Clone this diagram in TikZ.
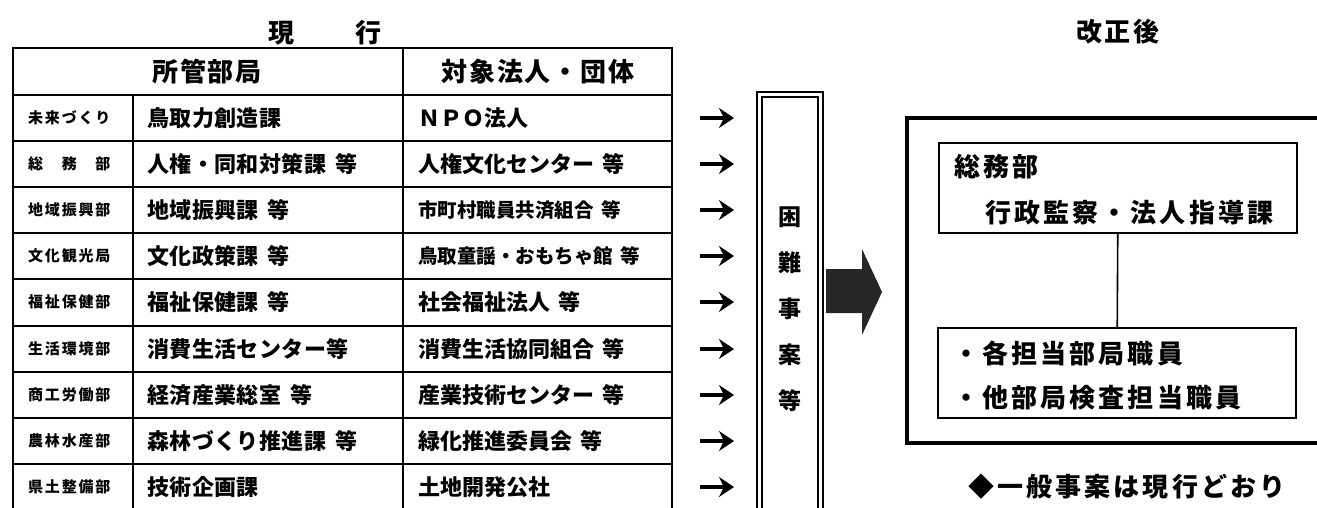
\documentclass[tikz,border=0pt]{standalone}
\usepackage{fontspec}
\setmainfont{Noto Sans CJK JP}
\usetikzlibrary{arrows.meta}
\newcommand{\gp}{\hspace{0.4em}}
\tikzset{
  tline/.style={line width=1.8pt},
  sname/.style={anchor=west, inner sep=0pt, font=\bfseries\fontsize{15}{15}\selectfont\addfontfeatures{LetterSpace=12}},
  mid/.style={anchor=west, inner sep=0pt, font=\bfseries\fontsize{22}{22}\selectfont\addfontfeatures{LetterSpace=2}},
  obj/.style={anchor=west, inner sep=0pt, font=\bfseries\fontsize{22}{22}\selectfont},
  objs/.style={anchor=west, inner sep=0pt, font=\bfseries\fontsize{19.5}{20}\selectfont},
  head/.style={inner sep=0pt, font=\bfseries\fontsize{26}{26}\selectfont\addfontfeatures{LetterSpace=7}},
  title/.style={inner sep=0pt, font=\bfseries\fontsize{26}{26}\selectfont\addfontfeatures{LetterSpace=8}},
  rt/.style={anchor=west, inner sep=0pt, font=\bfseries\fontsize{26}{26}\selectfont\addfontfeatures{LetterSpace=12}},
  box/.style={draw, line width=1.6pt, inner sep=0pt},
  rowarrow/.style={draw, line width=4.5pt, -{Stealth[length=15pt,width=20pt,inset=5pt]}},
}
\begin{document}
\begin{tikzpicture}[x=1pt,y=-1pt]
\useasboundingbox (0,0) rectangle (1317,507);
\clip (0,0) rectangle (1317,507);
% titles
\node[title] (gen1) at (281,33) {現};
\node[title] (gen2) at (368,33) {行};
\node[title] (kaisei) at (1118,32) {改正後};
% table lines
\draw[tline] (13,48) rectangle (672,530);
\draw[tline] (13,95) -- (672,95);
\draw[tline] (403,48) -- (403,530);
\draw[tline] (133,95) -- (133,530);
\foreach \y in {141,187,233,279,326,372,418,464} \draw[tline] (13,\y) -- (672,\y);
% headers
\node[head] (h1) at (207,72) {所管部局};
\node[head] (h2) at (538,72) {対象法人・団体};
% rows
\node[sname] (s1) at (28,118) {未来づくり};
\node[sname] (s2) at (28,164) {総　務　部};
\node[sname] (s3) at (28,210) {地域振興部};
\node[sname] (s4) at (28,256) {文化観光局};
\node[sname] (s5) at (28,302) {福祉保健部};
\node[sname] (s6) at (28,349) {生活環境部};
\node[sname] (s7) at (28,395) {商工労働部};
\node[sname] (s8) at (28,441) {農林水産部};
\node[sname] (s9) at (28,487) {県土整備部};
\node[mid] (m1) at (147,118) {鳥取力創造課};
\node[mid] (m2) at (147,164) {人権・同和対策課\gp 等};
\node[mid] (m3) at (147,210) {地域振興課\gp 等};
\node[mid] (m4) at (147,256) {文化政策課\gp 等};
\node[mid] (m5) at (147,302) {福祉保健課\gp 等};
\node[mid] (m6) at (147,349) {消費生活センター等};
\node[mid] (m7) at (147,395) {経済産業総室\gp 等};
\node[mid] (m8) at (147,441) {森林づくり推進課\gp 等};
\node[mid] (m9) at (147,487) {技術企画課};
\node[obj] (o1) at (418,118) {ＮＰＯ法人};
\node[obj] (o2) at (418,164) {人権文化センター\gp 等};
\node[objs] (o3) at (418,210) {市町村職員共済組合\gp 等};
\node[objs] (o4) at (418,256) {鳥取童謡・おもちゃ館\gp 等};
\node[obj] (o5) at (418,302) {社会福祉法人\gp 等};
\node[obj] (o6) at (418,349) {消費生活協同組合\gp 等};
\node[obj] (o7) at (418,395) {産業技術センター\gp 等};
\node[obj] (o8) at (418,441) {緑化推進委員会\gp 等};
\node[obj] (o9) at (418,487) {土地開発公社};
% small arrows
\foreach \i/\y in {1/118,2/164,3/210,4/256,5/302,6/349,7/395,8/441,9/487}{
  \coordinate (as\i) at (700,\y);
  \coordinate (ae\i) at (734,\y);
  \path[rowarrow] (as\i) -- (ae\i);
}
% double box
\draw[line width=1.8pt] (757,92) rectangle (823,530);
\draw[line width=1.8pt] (762,97) rectangle (818,530);
\node[inner sep=0pt, align=center, font=\bfseries\fontsize{23}{46}\selectfont] (kn) at (790,309) {困\\難\\事\\案\\等};
% big arrow
\fill[black!85] (826,269) -- (862,269) -- (862,249) -- (882,292) -- (862,335) -- (862,313) -- (826,313) -- cycle;
% right side
\draw[line width=4pt] (907,118) rectangle (1340,443);
\node[box, minimum width=358pt, minimum height=90pt] (topb) at (1118,188) {};
\node[box, minimum width=358pt, minimum height=90pt] (botb) at (1117,373) {};
\draw[line width=1.6pt] (topb) -- (botb);
\node[rt] (somu) at (954,167) {総務部};
\node[rt] (gyo) at (985,213) {行政監察・法人指導課};
\node[rt] (b1) at (953,353) {・各担当部局職員};
\node[rt] (b2) at (953,398) {・他部局検査担当職員};
\node[rt] (ippan) at (968,487) {◆一般事案は現行どおり};
\end{tikzpicture}
\end{document}
